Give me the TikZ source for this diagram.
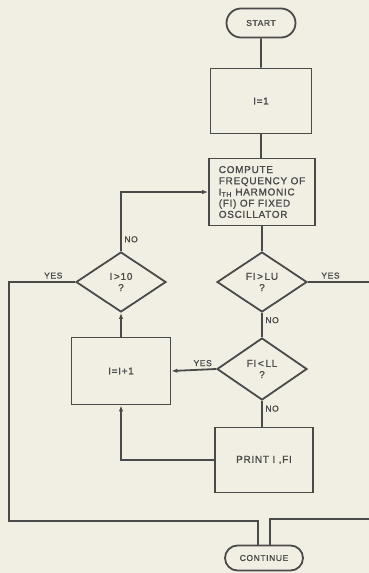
\documentclass[tikz,border=0pt]{standalone}
\usepackage{fontspec}
\newfontfamily\chartfont[LetterSpace=7,FakeBold=1.2]{Liberation Sans}
\usetikzlibrary{arrows.meta,positioning,calc,shapes.geometric,shapes.misc}
\definecolor{scanpaper}{HTML}{F1EFE3}
\definecolor{scanink}{HTML}{4A4A4A}

\begin{document}
\begin{tikzpicture}[x=1pt,y=-1pt,line width=1.8pt,scanink,
  every node/.style={text=scanink,font=\chartfont\fontsize{10}{11.2}\selectfont},
  term/.style={draw,rounded rectangle,inner sep=2pt,font=\chartfont\fontsize{8.5}{9}\selectfont},
  proc/.style={draw,rectangle,inner sep=2pt},
  test/.style={draw,diamond,aspect=1.5,inner sep=0pt,align=center,minimum width=90pt,minimum height=60pt},
  lbl/.style={font=\chartfont\fontsize{8.5}{9}\selectfont,inner sep=2.5pt},
  arr/.style={-{Latex[length=6pt,width=4.5pt]}}]
\fill[scanpaper] (0,0) rectangle (369,573);
\useasboundingbox (0,0) rectangle (369,573);

% main column
\node[term,minimum width=73pt,minimum height=29pt] (start) at (261,23) {START};
\node[proc,minimum width=101pt,minimum height=65pt] (i1) at (261,101) {I=1};
\node[proc,align=left,minimum width=106pt,minimum height=67pt] (compute) at (262,192)
  {COMPUTE\\FREQUENCY OF\\I\textsubscript{TH} HARMONIC\\(FI) OF FIXED\\OSCILLATOR};
\node[test] (fiLU) at (262,282) {FI\,>\,LU\\?};
\node[test,minimum height=62pt] (fiLL) at (262,369) {FI\,<\,LL\\?};
\node[proc,minimum width=98pt,minimum height=65pt] (print) at (264,460) {PRINT I ,FI};
\node[term,minimum width=82pt,minimum height=25pt] (cont) at (264,558) {CONTINUE};

% loop column
\node[test] (gt10) at (121,282) {I\,>10\\?};
\node[proc,minimum width=99pt,minimum height=67pt] (incr) at (121,371) {I=I+1};

\coordinate (leftUp) at (9,282);
\coordinate (leftDown) at (9,521);
\coordinate (rightUp) at (369,282);
\coordinate (rightDown) at (369,519);

\draw (start) -- (start |- i1.north);
\draw (i1.south) -- (i1.south |- compute.north);
\draw (compute) -- (fiLU);
\draw (fiLU) -- node[lbl,right,pos=0.3] {NO} (fiLL);
\draw (fiLL) -- node[lbl,right,pos=0.3] {NO} (print.north -| fiLL);
\draw[arr] (fiLL.west) -- node[lbl,above,pos=0.3] {YES} (incr.east);
\draw[arr] (print.west) -| (incr.south);
\draw[arr] (incr) -- (gt10);
\draw[arr] (gt10.north) |- node[lbl,right,pos=0.1] {NO} (compute.west);
\draw (gt10.west) -- node[lbl,above,pos=0.33] {YES} (leftUp) -- (leftDown)
  -| ([xshift=-6pt]cont.north);
\draw (fiLU.east) -- node[lbl,above,pos=0.37] {YES} (rightUp);
\draw (rightDown) -| ([xshift=6pt]cont.north);
\end{tikzpicture}
\end{document}
